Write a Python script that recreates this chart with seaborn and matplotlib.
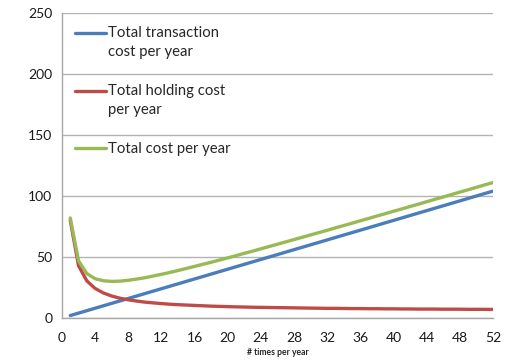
import matplotlib
matplotlib.use("Agg")
import matplotlib.pyplot as plt
from matplotlib.legend_handler import HandlerLine2D
import seaborn as sns
import pandas as pd

# Number of orders per year
times_per_year = list(range(1, 53))

transaction_cost = [2, 4, 6, 8, 10, 12, 14, 16, 18, 20, 22, 24, 26, 28, 30, 32,
                    34, 36, 38, 40, 42, 44, 46, 48, 50, 52, 54, 56, 58, 60, 62, 64,
                    66, 68, 70, 72, 74, 76, 78, 80, 82, 84, 86, 88, 90, 92, 94, 96,
                    98, 100, 102, 104]

holding_cost = [80.0, 42.8, 30.4, 24.2, 20.5, 18.0, 16.2, 14.9, 13.9, 13.0, 12.4, 11.8,
                11.3, 10.9, 10.6, 10.3, 10.0, 9.7, 9.5, 9.3, 9.1, 9.0, 8.8, 8.7, 8.6,
                8.5, 8.4, 8.3, 8.2, 8.1, 8.0, 7.9, 7.9, 7.8, 7.7, 7.7, 7.6, 7.6, 7.5,
                7.5, 7.4, 7.4, 7.3, 7.3, 7.3, 7.2, 7.2, 7.2, 7.1, 7.1, 7.1, 7.0]

total_cost = [82.0, 46.8, 36.4, 32.2, 30.5, 30.0, 30.2, 30.9, 31.9, 33.0, 34.4, 35.8,
              37.3, 38.9, 40.6, 42.3, 44.0, 45.7, 47.5, 49.3, 51.1, 53.0, 54.8, 56.7,
              58.6, 60.5, 62.4, 64.3, 66.2, 68.1, 70.0, 71.9, 73.9, 75.8, 77.7, 79.7,
              81.6, 83.6, 85.5, 87.5, 89.4, 91.4, 93.3, 95.3, 97.3, 99.2, 101.2, 103.2,
              105.1, 107.1, 109.1, 111.0]

series_labels = ["Total transaction\ncost per year",
                 "Total holding cost\nper year",
                 "Total cost per year"]
colors = ["#4A7EBB", "#BE4B48", "#98B954"]

x_ticks = list(range(0, 53, 4))
y_ticks = [0, 50, 100, 150, 200, 250]

df = pd.concat([
    pd.DataFrame({"n": times_per_year, "cost": vals, "series": lab})
    for vals, lab in zip([transaction_cost, holding_cost, total_cost], series_labels)
])

sns.set_style("white")
plt.rcParams["font.family"] = ["Lato", "DejaVu Sans"]

LEG_FONT = 10.7
LEG_LINESPACING = 1.5


class FirstLineHandler(HandlerLine2D):
    """Draw the legend line next to the first row of a wrapped label."""

    def __init__(self, n_extra_lines, **kw):
        super().__init__(**kw)
        self.n_extra_lines = n_extra_lines

    def create_artists(self, legend, orig_handle, xdescent, ydescent, width,
                       height, fontsize, trans):
        artists = super().create_artists(legend, orig_handle, xdescent, ydescent,
                                         width, height, fontsize, trans)
        shift = self.n_extra_lines * fontsize * 0.68
        for a in artists:
            a.set_ydata([y + shift for y in a.get_ydata()])
        return artists


fig = plt.figure(figsize=(5.11, 3.6), dpi=100)
ax = fig.add_axes([0.1213, 0.1167, 0.8435, 0.8472])

sns.lineplot(data=df, x="n", y="cost", hue="series", palette=colors,
             hue_order=series_labels, linewidth=2.4, ax=ax, legend=True)

ax.set_xlim(0, 52)
ax.set_ylim(0, 250)
ax.set_xticks(x_ticks)
ax.set_yticks(y_ticks)
ax.yaxis.grid(True, color="#B3B3B3", linewidth=1.0)
ax.xaxis.grid(False)
ax.set_axisbelow(True)

for side in ["top", "right"]:
    ax.spines[side].set_visible(False)
for side in ["left", "bottom"]:
    ax.spines[side].set_color("#A6A6A6")
    ax.spines[side].set_linewidth(1.0)

ax.tick_params(axis="both", direction="out", length=4, width=1, color="#A6A6A6",
               labelsize=10, labelcolor="#1a1a1a", pad=3)
ax.tick_params(axis="x", pad=6)

ax.set_ylabel("")
ax.set_xlabel("# times per year", fontsize=6.2, fontweight="bold", labelpad=3)

handles, labels = ax.get_legend_handles_labels()
hmap = {h: FirstLineHandler(lab.count("\n")) for h, lab in zip(handles, labels)}
leg = ax.legend(handles, labels, loc="upper left", bbox_to_anchor=(0.030, 0.958),
                frameon=False, fontsize=LEG_FONT, handlelength=2.1,
                handletextpad=0.15, labelspacing=1.65, borderpad=0,
                borderaxespad=0, handler_map=hmap)
for t in leg.get_texts():
    t.set_linespacing(LEG_LINESPACING)
for line in leg.get_lines():
    line.set_linewidth(2.4)

fig.savefig("out.png", dpi=100)
